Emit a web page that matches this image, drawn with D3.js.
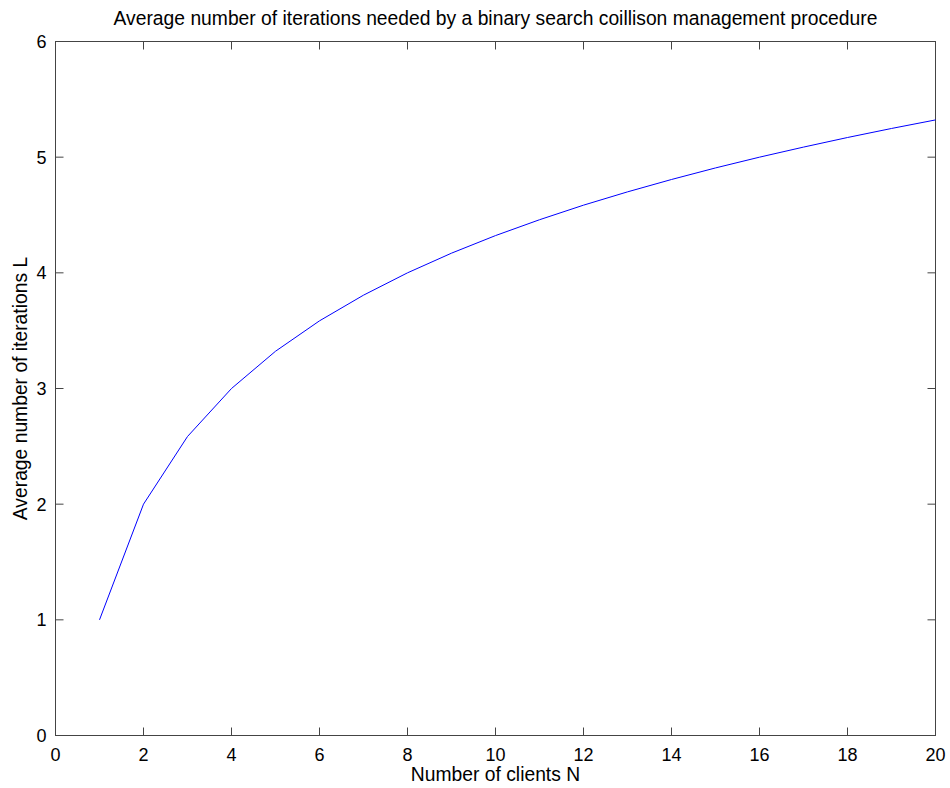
<!DOCTYPE html>
<html><head><meta charset="utf-8">
<script src="https://cdn.jsdelivr.net/npm/d3@7"></script>
<style>body{margin:0;background:#fff;} text{font-family:"Liberation Sans",Arial,sans-serif;}</style>
</head><body>
<svg id="c" width="950" height="788"></svg>
<script>
const clients = [1,2,3,4,5,6,7,8,9,10,11,12,13,14,15,16,17,18,19,20];
const iterations = [1.0,2.0,2.585,3.0,3.322,3.585,3.807,4.0,4.17,4.322,4.459,4.585,4.70,4.807,4.907,5.0,5.087,5.17,5.248,5.322];
const xTicks = [0,2,4,6,8,10,12,14,16,18,20];
const yTicks = [0,1,2,3,4,5,6];
const titleText = "Average number of iterations needed by a binary search coillison management procedure";
const xLabel = "Number of clients N";
const yLabel = "Average number of iterations L";

const svg = d3.select("#c");
const L=55.5, R=935.5, T=41.5, B=735.5;
const x = d3.scaleLinear().domain([0,20]).range([L,R]);
const y = d3.scaleLinear().domain([0,6]).range([B,T]);
const axCol = "#444";

svg.append("rect").attr("x",L).attr("y",T).attr("width",R-L).attr("height",B-T)
  .attr("fill","none").attr("stroke",axCol).attr("stroke-width",1);

const tl = 8;
const g = svg.append("g").attr("stroke",axCol).attr("stroke-width",1);
xTicks.forEach(t=>{
  g.append("line").attr("x1",x(t)).attr("x2",x(t)).attr("y1",B).attr("y2",B-tl);
  g.append("line").attr("x1",x(t)).attr("x2",x(t)).attr("y1",T).attr("y2",T+tl);
});
yTicks.forEach(t=>{
  g.append("line").attr("y1",y(t)).attr("y2",y(t)).attr("x1",L).attr("x2",L+tl);
  g.append("line").attr("y1",y(t)).attr("y2",y(t)).attr("x1",R).attr("x2",R-tl);
});

svg.selectAll(".xt").data(xTicks).enter().append("text")
  .attr("x",d=>x(d)).attr("y",B+25).attr("text-anchor","middle")
  .attr("font-size",18).attr("fill","#000").text(d=>d);
svg.selectAll(".yt").data(yTicks).enter().append("text")
  .attr("x",L-9).attr("y",d=>y(d)+6.5).attr("text-anchor","end")
  .attr("font-size",18).attr("fill","#000").text(d=>d);

svg.append("text").attr("x",(L+R)/2).attr("y",25).attr("text-anchor","middle")
  .attr("font-size",19.3).attr("fill","#000").text(titleText);
svg.append("text").attr("x",(L+R)/2).attr("y",781).attr("text-anchor","middle")
  .attr("font-size",19.3).attr("fill","#000").text(xLabel);
svg.append("text").attr("transform",`translate(27,${(T+B)/2}) rotate(-90)`).attr("text-anchor","middle")
  .attr("font-size",19.3).attr("fill","#000").text(yLabel);

const line = d3.line().x((d,i)=>x(clients[i])).y(d=>y(d));
svg.append("path").datum(iterations).attr("d",line).attr("fill","none")
  .attr("stroke","#0000ff").attr("stroke-width",1);
</script>
</body></html>
